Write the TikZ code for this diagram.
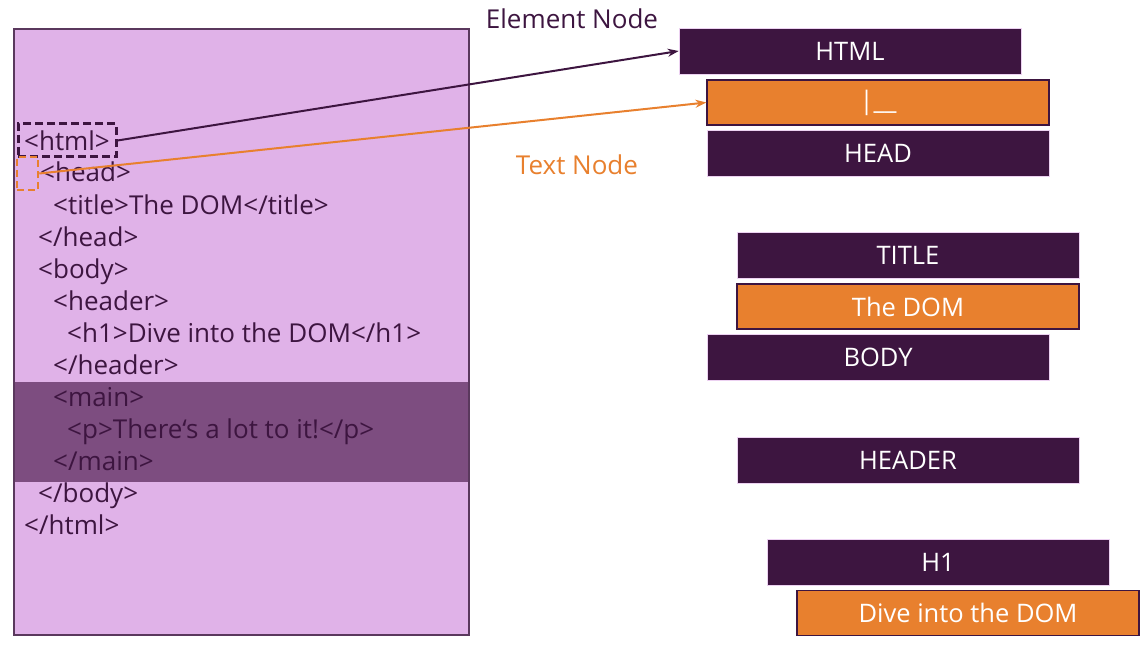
\documentclass[tikz,border=0pt]{standalone}
\usepackage{fontspec}
\setmainfont{Open Sans}
\usetikzlibrary{arrows.meta}
\definecolor{dpurp}{HTML}{3D1540}
\definecolor{orng}{HTML}{E8802E}
\definecolor{lpurp}{HTML}{E0B2E8}
\definecolor{band}{HTML}{7D4D80}
\tikzset{
  elbox/.style={fill=dpurp, draw=lpurp!60, line width=0.6pt, minimum width=342pt, minimum height=46pt, inner sep=0pt, text=white, font=\fontsize{25.5}{28}\selectfont},
  txbox/.style={fill=orng, draw=dpurp, line width=1.2pt, minimum width=342pt, minimum height=45pt, inner sep=0pt, text=white, font=\fontsize{25.5}{28}\selectfont},
  code/.style={anchor=base west, inner sep=0pt, text=dpurp, font=\fontsize{26}{28}\selectfont},
  lbl/.style={inner sep=0pt, font=\fontsize{26}{28}\selectfont},
  conn/.style={line width=2pt, -{Stealth[length=11pt,width=8pt]}},
}
\begin{document}
\begin{tikzpicture}[x=1pt,y=-1pt]
\useasboundingbox (0,0) rectangle (1146,650);
% left panel
\fill[lpurp] (14,29) rectangle (469,635);
\fill[band] (14,382) rectangle (469,482);
\draw[dpurp!85, line width=1.5pt] (14,29) rectangle (469,635);
% code lines
\node[code] (l1) at (24,150) {<html>};
\node[code] (l2) at (40,182) {<head>};
\node[code] (l3) at (53,214) {<title>The DOM</title>};
\node[code] (l4) at (38,246) {</head>};
\node[code] (l5) at (38,278) {<body>};
\node[code] (l6) at (53,310) {<header>};
\node[code] (l7) at (67,342) {<h1>Dive into the DOM</h1>};
\node[code] (l8) at (53,374) {</header>};
\node[code] (l9) at (53,406) {<main>};
\node[code] (l10) at (67,438) {<p>There‘s a lot to it!</p>};
\node[code] (l11) at (53,470) {</main>};
\node[code] (l12) at (38,502) {</body>};
\node[code] (l13) at (24,534) {</html>};
% dashed markers
\node[draw=dpurp, dash pattern=on 8pt off 4pt, line width=3pt, minimum width=98pt, minimum height=33pt, inner sep=0pt] (hbox) at (67,140.5) {};
\node[draw=orng, dash pattern=on 7pt off 4pt, line width=2.5pt, minimum width=21pt, minimum height=33pt, inner sep=0pt] (tbox) at (27.5,173.5) {};
% right boxes
\node[elbox] (nhtml) at (850,51) {HTML};
\node[txbox] (nt1) at (878,102.5) {|\_\_};
\node[elbox] (nhead) at (878,153) {HEAD};
\node[elbox] (ntitle) at (908,255) {TITLE};
\node[txbox] (nt2) at (908,306.5) {The DOM};
\node[elbox] (nbody) at (878,357) {BODY};
\node[elbox] (nheader) at (908,460) {HEADER};
\node[elbox] (nh1) at (938,562) {H1};
\node[txbox] (nt3) at (968,613) {Dive into the DOM};
% labels
\node[lbl, text=dpurp] (elab) at (572,19) {Element Node};
\node[lbl, text=orng] (tlab) at (577,165) {Text Node};
% connectors
\draw[conn, dpurp] (hbox.east) -- (nhtml.west);
\draw[conn, orng] (tbox.east) -- (nt1.west);
\end{tikzpicture}
\end{document}
